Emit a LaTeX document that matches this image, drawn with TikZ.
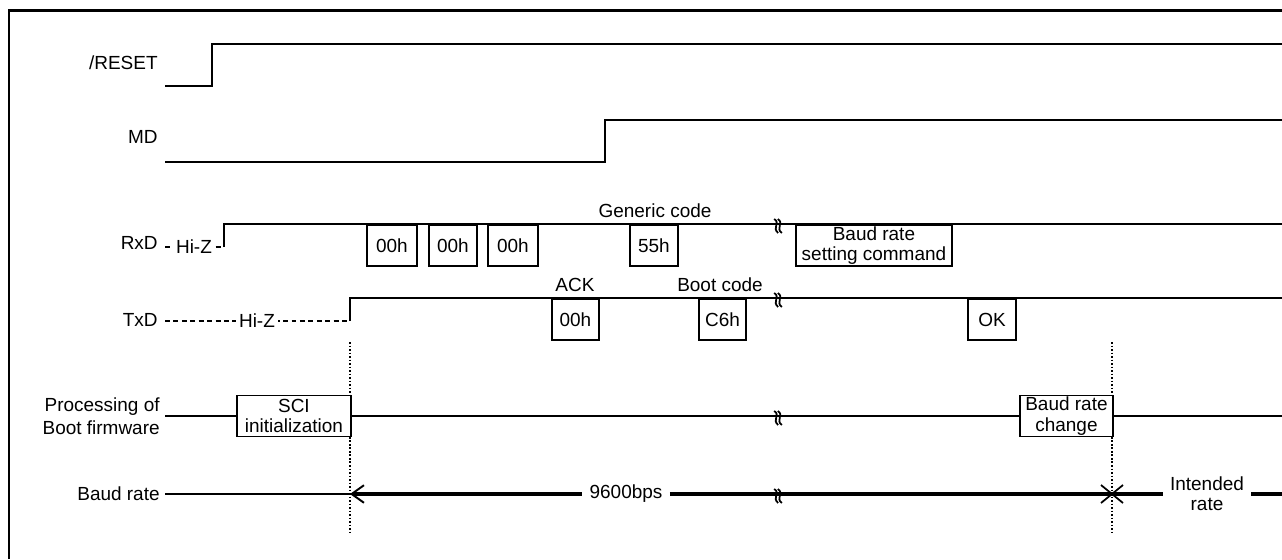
\documentclass[tikz,border=0pt]{standalone}
\usepackage{fontspec}
\setmainfont{Liberation Sans}
\usetikzlibrary{arrows.meta}

\begin{document}
\begin{tikzpicture}[x=0.02cm, y=-0.02cm, font=\fontsize{10.8}{11.5}\selectfont,
  sig/.style={line width=1.1pt},
  ratebar/.style={line width=2.4pt},
  hiz/.style={line width=1.1pt, dash pattern=on 2.8pt off 2pt},
  databox/.style={draw, line width=1.1pt, fill=white, inner sep=0pt,
    anchor=north west, minimum height=0.82cm, align=center},
  lbl/.style={anchor=east, inner sep=0pt, align=right},
  marker/.style={line width=0.7pt, dash pattern=on 1pt off 1pt},
  brk/.pic={\foreach \o in {-1.8,1.8}
    \draw[line width=1pt] (\o-2,-5) .. controls (\o+4.5,-1) and (\o-4.5,4) .. (\o+2,9);}]
  \useasboundingbox (0,0) rectangle (1282,559);

  % Frame
  \draw[line width=1.7pt] (9,559) -- (9,10) -- (1282,10);

  % Signal names
  \node[lbl] (nreset) at (158,63)  {/RESET};
  \node[lbl] (nmd)    at (158,137) {MD};
  \node[lbl] (nrxd)   at (158,243) {RxD};
  \node[lbl] (ntxd)   at (158,320) {TxD};
  \node[lbl, font=\fontsize{10.8}{13}\selectfont] (nproc) at (160,416) {Processing of\\Boot firmware};
  \node[lbl] (nbaud)  at (160,494) {Baud rate};

  % /RESET and MD
  \draw[sig] (165,86) -- (212,86) -- (212,44) -- (1282,44);
  \draw[sig] (165,162) -- (605,162) -- (605,120) -- (1282,120);

  % RxD
  \draw[hiz] (165,247) -- (224,247);
  \node[fill=white, inner xsep=2pt, inner ysep=0pt] (rxz) at (194,247) {Hi-Z};
  \draw[sig] (224,247) -- (224,224) -- (1282,224);

  % TxD
  \draw[hiz] (165,321) -- (350,321);
  \node[fill=white, inner xsep=2pt, inner ysep=0pt] (txz) at (257,321) {Hi-Z};
  \draw[sig] (350,321) -- (350,298) -- (1282,298);

  % Timing markers
  \draw[marker] (350,342) -- (350,533);
  \draw[marker] (1112,342) -- (1112,533);

  % Received bytes
  \node[databox, minimum width=1.0cm]  (rx1)  at (366,224) {00h};
  \node[databox, minimum width=0.96cm] (rx2)  at (428,224) {00h};
  \node[databox, minimum width=1.0cm]  (rx3)  at (487,224) {00h};
  \node[databox, minimum width=0.96cm] (rx55) at (629,224) {55h};
  \node[databox, minimum width=3.12cm] (rxcmd) at (795,224) {Baud rate\\setting command};
  \node (generic) at (655,211) {Generic code};

  % Sent bytes
  \node[databox, minimum width=0.94cm] (tx00) at (551,298) {00h};
  \node[databox, minimum width=0.94cm] (txc6) at (698,298) {C6h};
  \node[databox, minimum width=0.96cm] (txok) at (967,298) {OK};
  \node (ack)  at (575,285) {ACK};
  \node (boot) at (720,285) {Boot code};

  % Boot firmware processing
  \node[databox, anchor=west, minimum width=2.28cm] (sci) at (236,416) {SCI\\initialization};
  \node[databox, anchor=west, minimum width=1.86cm] (chg) at (1019,416) {Baud rate\\change};
  \draw[sig] (165,416) -- (sci.west);
  \draw[sig] (sci.east) -- (chg.west);
  \draw[sig] (chg.east) -- (1282,416);

  % Baud rate
  \coordinate (t1) at (350,494);
  \coordinate (t2) at (1112,494);
  \node[inner xsep=4pt] (bps) at (626,494) {9600bps};
  \node[inner xsep=4pt, align=center] (intended) at (1207,494) {Intended\\rate};
  \draw[sig] (165,494) -- (t1);
  \draw[ratebar, {Straight Barb[length=7pt, width=10pt, line width=1.1pt]}-] (t1) -- (bps.west);
  \draw[ratebar] (bps.east) -- (t2) -- (intended.west);
  \draw[ratebar] (intended.east) -- (1282,494);
  \draw[line width=1pt] (t2) ++(-11,-9) -- ++(22,18) (t2) ++(-11,9) -- ++(22,-18);

  % Breaks
  \foreach \y in {224,298,416,494}
    \pic at (778,\y) {brk};
\end{tikzpicture}
\end{document}
